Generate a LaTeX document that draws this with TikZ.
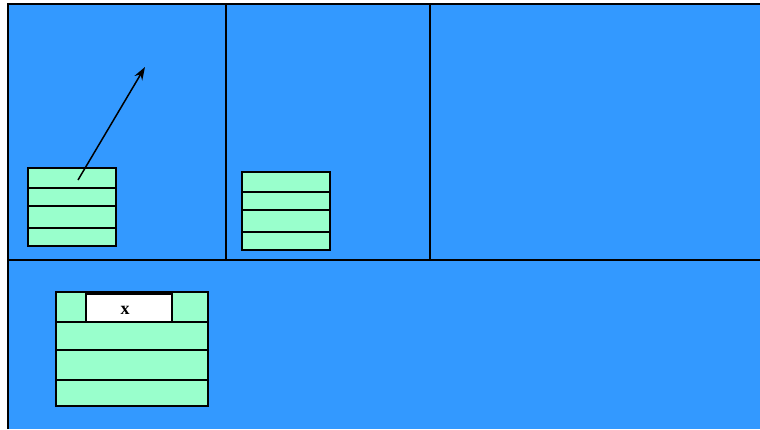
\documentclass[tikz,border=0pt]{standalone}
\usepackage{fontspec}
\setmainfont{Liberation Serif}
\usetikzlibrary{arrows.meta, positioning}

\definecolor{panelblue}{HTML}{3399FF}
\definecolor{slotgreen}{HTML}{99FFCC}

\tikzset{
  frame/.style={line width=1.5pt},
  objbox/.style={draw, line width=1.5pt, fill=slotgreen, inner sep=0pt, outer sep=0pt, anchor=north west},
  cell/.style={draw, line width=1.5pt, fill=white, inner sep=0pt, outer sep=0pt, anchor=north west,
    font=\fontsize{18}{18}\selectfont\bfseries},
}

\begin{document}
\begin{tikzpicture}[x=1pt, y=-1pt]
  \useasboundingbox (0,0) rectangle (760,429);

  % Panels
  \fill[panelblue] (8,4) rectangle (760,429);
  \draw[frame] (8,429) -- (8,4) -- (760,4);
  \draw[frame] (226,4) -- (226,260);
  \draw[frame] (430,4) -- (430,260);
  \draw[frame] (8,260) -- (760,260);

  % Object 1
  \node[objbox, minimum width=88pt, minimum height=78pt] (obj1) at (28,168) {};
  \foreach \y in {188,206,228}
    \draw[frame] (28,\y) -- (116,\y);

  % Object 2
  \node[objbox, minimum width=88pt, minimum height=78pt] (obj2) at (242,172) {};
  \foreach \y in {192,210,232}
    \draw[frame] (242,\y) -- (330,\y);

  % Object 3
  \node[objbox, minimum width=152pt, minimum height=114pt] (obj3) at (56,292) {};
  \foreach \y in {322,350,380}
    \draw[frame] (56,\y) -- (208,\y);
  \node[cell, minimum width=86pt, minimum height=28pt] (field) at (86,294)
    {\hspace{-8pt}\raisebox{-6pt}[0pt][0pt]{x}};

  % Pointer
  \coordinate (tail) at (78,180);
  \coordinate (head) at (145,67);
  \draw[line width=1.5pt, -{Stealth[length=13pt, width=9pt]}] (tail) -- (head);
\end{tikzpicture}
\end{document}
